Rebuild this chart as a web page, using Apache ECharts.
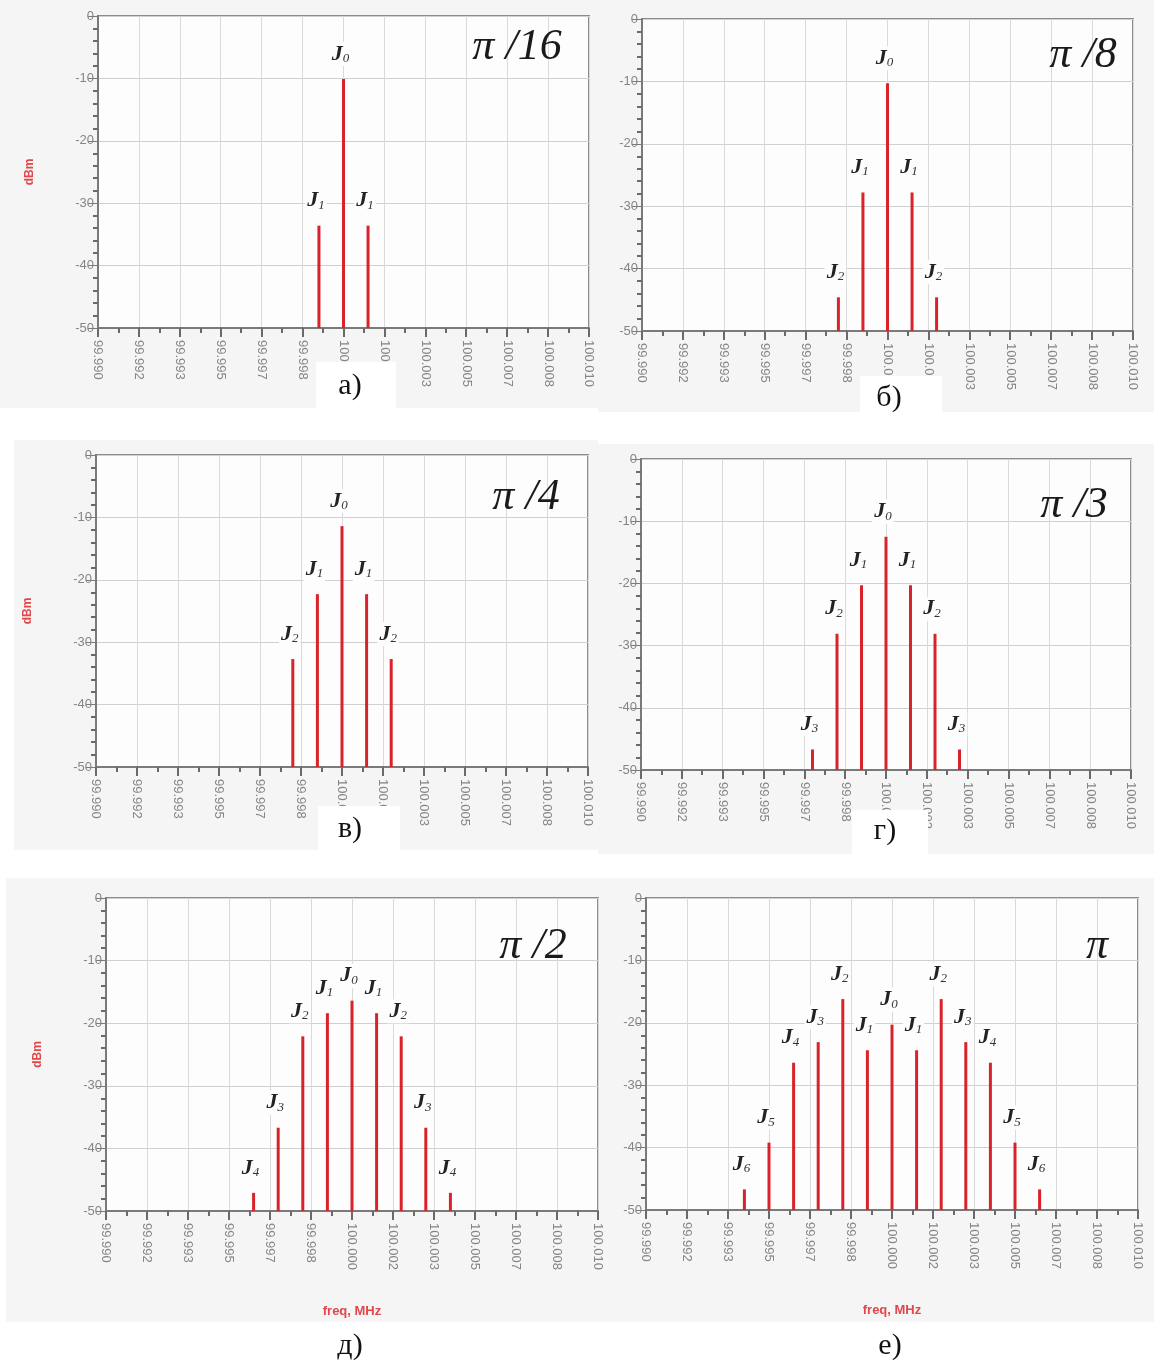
<!DOCTYPE html>
<html>
<head>
<meta charset="utf-8">
<title>Спектр ФМ сигнала</title>
<script src="https://cdn.jsdelivr.net/npm/echarts@6/dist/echarts.min.js"></script>
<style>
  html, body { margin: 0; padding: 0; background: #ffffff; }
  #chart { width: 1161px; height: 1369px; }
</style>
</head>
<body>
<div id="chart"></div>
<script>
// axis values
var xMin = 99.990;
var xMax = 100.010;
var xTickLabels = ['99.990', '99.992', '99.993', '99.995', '99.997', '99.998', '100.000',
	'100.002', '100.003', '100.005', '100.007', '100.008', '100.010'];
var yTicks = [0, -10, -20, -30, -40, -50];

// spectral lines, one set per panel: frequency (MHz), level (dBm), Bessel order
var freqA = [99.999, 100.000, 100.001];
var levelA = [-33.6, -10.1, -33.6];
var orderA = [1, 0, 1];

var freqB = [99.998, 99.999, 100.000, 100.001, 100.002];
var levelB = [-44.6, -27.8, -10.3, -27.8, -44.6];
var orderB = [2, 1, 0, 1, 2];

var freqC = [99.998, 99.999, 100.000, 100.001, 100.002];
var levelC = [-32.7, -22.3, -11.4, -22.3, -32.7];
var orderC = [2, 1, 0, 1, 2];

var freqD = [99.997, 99.998, 99.999, 100.000, 100.001, 100.002, 100.003];
var levelD = [-46.7, -28.1, -20.3, -12.5, -20.3, -28.1, -46.7];
var orderD = [3, 2, 1, 0, 1, 2, 3];

var freqE = [99.996, 99.997, 99.998, 99.999, 100.000, 100.001, 100.002, 100.003, 100.004];
var levelE = [-47.1, -36.7, -22.1, -18.4, -16.4, -18.4, -22.1, -36.7, -47.1];
var orderE = [4, 3, 2, 1, 0, 1, 2, 3, 4];

var freqF = [99.994, 99.995, 99.996, 99.997, 99.998, 99.999, 100.000, 100.001, 100.002, 100.003, 100.004, 100.005, 100.006];
var levelF = [-46.7, -39.2, -26.4, -23.1, -16.2, -24.4, -20.3, -24.4, -16.2, -23.1, -26.4, -39.2, -46.7];
var orderF = [6, 5, 4, 3, 2, 1, 0, 1, 2, 3, 4, 5, 6];

var phaseNames = ['π /16', 'π /8', 'π /4', 'π /3', 'π /2', 'π'];
var captions = ['а)', 'б)', 'в)', 'г)', 'д)', 'е)'];

var stemColor = '#d9232a';
var redText = '#e2474b';
var grayText = '#858585';

// panel layout
var panels = [
	{ left: 98, top: 16, width: 491, height: 312, freq: freqA, level: levelA, order: orderA, dbm: true, fname: false,
		phase: [517, 47], cap: [350, 386], box: [316, 362, 80, 50], back: [0, 0, 598, 408] },
	{ left: 642, top: 19, width: 491, height: 312, freq: freqB, level: levelB, order: orderB, dbm: false, fname: false,
		phase: [1083, 55], cap: [889, 398], box: [860, 376, 82, 46], back: [598, 0, 556, 412] },
	{ left: 96, top: 455, width: 492, height: 312, freq: freqC, level: levelC, order: orderC, dbm: true, fname: false,
		phase: [526, 497], cap: [350, 829], box: [318, 806, 82, 46], back: [14, 440, 584, 410] },
	{ left: 641, top: 459, width: 490, height: 311, freq: freqD, level: levelD, order: orderD, dbm: false, fname: false,
		phase: [1074, 505], cap: [885, 831], box: [852, 810, 76, 44], back: [598, 444, 556, 410] },
	{ left: 106, top: 898, width: 492, height: 313, freq: freqE, level: levelE, order: orderE, dbm: true, fname: true,
		phase: [533, 946], cap: [350, 1346], box: [312, 1322, 80, 47], back: [6, 878, 592, 444] },
	{ left: 646, top: 898, width: 492, height: 312, freq: freqF, level: levelF, order: orderF, dbm: false, fname: true,
		phase: [1097, 946], cap: [890, 1346], box: [858, 1322, 70, 47], back: [598, 878, 556, 444] }
];

function stemItem(params, api) {
	var x = api.value(0);
	var top = api.coord([x, api.value(1)]);
	var base = api.coord([x, yTicks[yTicks.length - 1]]);
	return {
		type: 'group',
		children: [
			{
				type: 'line',
				shape: { x1: top[0], y1: top[1], x2: base[0], y2: base[1] },
				style: { stroke: stemColor, lineWidth: 3 }
			},
			{
				type: 'text',
				x: top[0] - 3,
				y: top[1] - 25,
				style: {
					text: '{j|J}{s|' + api.value(2) + '}',
					align: 'center',
					verticalAlign: 'middle',
					backgroundColor: '#fdfdfd',
					padding: [1, 2],
					rich: {
						j: { fontFamily: 'Liberation Serif', fontStyle: 'italic', fontWeight: 'bold', fontSize: 22, fill: '#222', verticalAlign: 'bottom' },
						s: { fontFamily: 'Liberation Serif', fontStyle: 'italic', fontSize: 13, fill: '#333', verticalAlign: 'bottom', padding: [8, 0, 0, 0] }
					}
				}
			}
		]
	};
}

var grids = [], xAxes = [], yAxes = [], series = [], graphics = [];

for (var i = 0; i < panels.length; i++) {
	var p = panels[i];
	graphics.push({
		type: 'rect', z: -10, silent: true,
		shape: { x: p.back[0], y: p.back[1], width: p.back[2], height: p.back[3] },
		style: { fill: '#f5f5f5' }
	});
	grids.push({
		left: p.left, top: p.top, width: p.width, height: p.height,
		show: true, backgroundColor: '#fdfdfd', borderColor: '#8c8c8c', borderWidth: 2
	});
	xAxes.push({
		gridIndex: i, type: 'value', min: xMin, max: xMax, interval: (xMax - xMin) / 12,
		name: p.fname ? 'freq, MHz' : '', nameLocation: 'middle', nameGap: 94,
		nameTextStyle: { color: redText, fontSize: 13, fontFamily: 'Liberation Sans', fontWeight: 'bold' },
		axisLine: { onZero: false, lineStyle: { color: '#7a7a7a', width: 2 } },
		axisTick: { length: 9, lineStyle: { color: '#6a6a6a', width: 2 } },
		minorTick: { show: true, splitNumber: 2, length: 5, lineStyle: { color: '#6a6a6a', width: 2 } },
		splitLine: { show: true, lineStyle: { color: '#dadada', width: 1 } },
		axisLabel: {
			rotate: -90, color: grayText, fontSize: 13, fontFamily: 'Liberation Sans', margin: 12,
			formatter: function (v) {
				var k = Math.round((v - xMin) / ((xMax - xMin) / 12));
				return xTickLabels[k];
			}
		}
	});
	yAxes.push({
		gridIndex: i, type: 'value', min: -50, max: 0, interval: 10,
		name: p.dbm ? 'dBm' : '', nameLocation: 'middle', nameGap: 62,
		nameTextStyle: { color: redText, fontSize: 12, fontFamily: 'Liberation Sans', fontWeight: 'bold' },
		axisLine: { show: true, onZero: false, lineStyle: { color: '#7a7a7a', width: 2 } },
		axisTick: { show: true, length: 10, lineStyle: { color: '#7a7a7a', width: 1 } },
		minorTick: { show: true, splitNumber: 5, length: 5, lineStyle: { color: '#6a6a6a', width: 2 } },
		splitLine: { show: true, lineStyle: { color: '#d0d0d0', width: 1 } },
		axisLabel: { color: grayText, fontSize: 13, fontFamily: 'Liberation Sans', margin: 4 }
	});
	var data = [];
	for (var k = 0; k < p.freq.length; k++) {
		data.push([p.freq[k], p.level[k], p.order[k]]);
	}
	series.push({
		type: 'custom', xAxisIndex: i, yAxisIndex: i, renderItem: stemItem, data: data, clip: false
	});
	graphics.push({
		type: 'text', x: p.phase[0], y: p.phase[1], z: 10,
		style: {
			text: phaseNames[i], fill: '#1a1a1a', align: 'center', verticalAlign: 'middle',
			font: 'italic 44px "Liberation Serif"'
		}
	});
	graphics.push({
		type: 'rect', z: 10,
		shape: { x: p.box[0], y: p.box[1], width: p.box[2], height: p.box[3] },
		style: { fill: '#ffffff' }
	});
	graphics.push({
		type: 'text', x: p.cap[0], y: p.cap[1], z: 11,
		style: {
			text: captions[i], fill: '#111', align: 'center', verticalAlign: 'middle',
			font: '30px "Liberation Serif"'
		}
	});
}

var myChart = echarts.init(document.getElementById('chart'));
myChart.setOption({
	backgroundColor: '#ffffff',
	animation: false,
	grid: grids,
	xAxis: xAxes,
	yAxis: yAxes,
	series: series,
	graphic: graphics
});
</script>
</body>
</html>
